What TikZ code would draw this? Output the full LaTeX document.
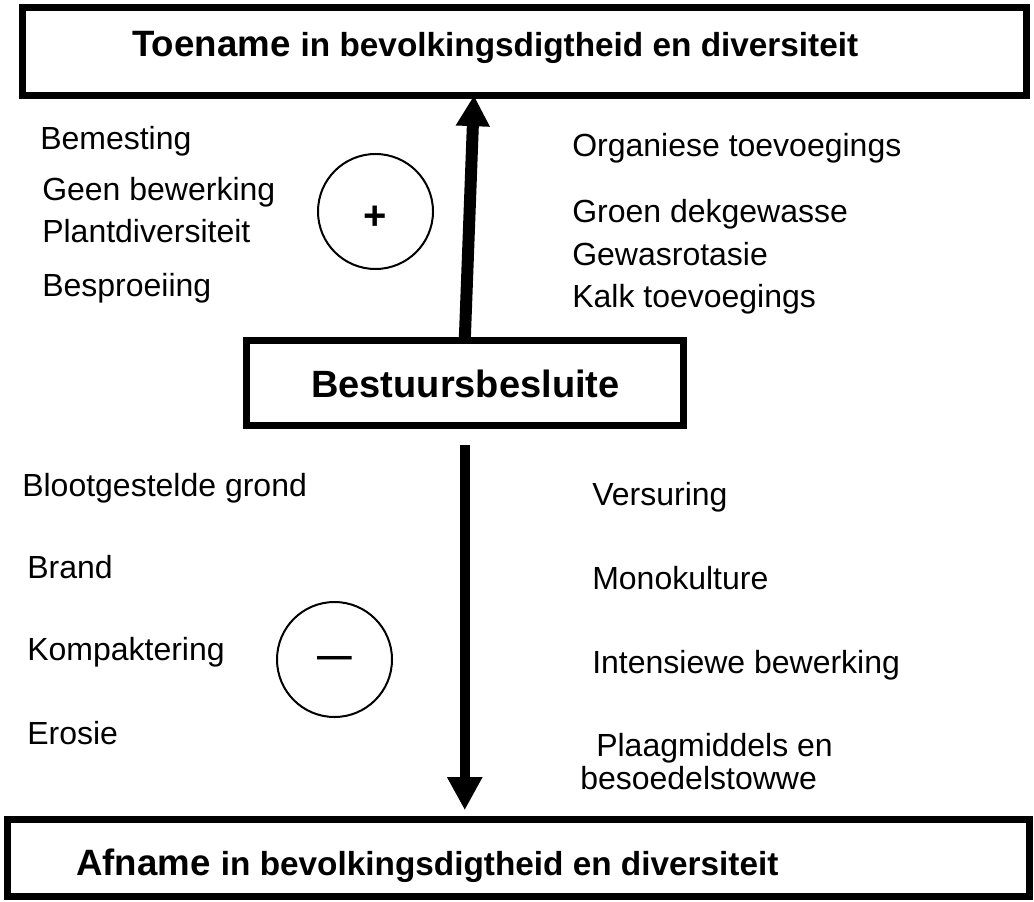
\documentclass[tikz,border=0pt]{standalone}
\usepackage{fontspec}
\setmainfont{Liberation Sans}
\usetikzlibrary{arrows.meta}
\begin{document}
\begin{tikzpicture}[x=0.75pt,y=-0.75pt,
  frame/.style={draw,rectangle,line width=5.25pt,inner sep=0pt,outer sep=0pt},
  lbl/.style={anchor=base west,inner sep=0pt,font=\fontsize{24}{28}\selectfont},
  bigttl/.style={anchor=base west,inner sep=0pt,font=\bfseries\fontsize{27.5}{30}\selectfont},
  sign/.style={draw,circle,line width=1.5pt,minimum size=86.25pt,inner sep=0pt},
  signtext/.style={inner sep=0pt,font=\bfseries\fontsize{#1}{#1}\selectfont},
  uparrow/.style={line width=9pt,-{Triangle[length=23pt,width=24pt]}},
  downarrow/.style={line width=7.5pt,-{Triangle[length=24.75pt,width=24.75pt]}}
]
\useasboundingbox (0,0) rectangle (1034,902);
\fill[white] (0,0) rectangle (1034,902);

% boxes
\node[frame,minimum width=753pt,minimum height=66pt] (top) at (524.5,51.5) {};
\node[frame,minimum width=766.5pt,minimum height=58.1pt] (bot) at (518.5,858.25) {};
\node[frame,minimum width=327.4pt,minimum height=63.4pt] (mid) at (464.75,382.75) {};

% titles
\node[bigttl] (toename) at (132,57) {Toename {\fontsize{25}{30}\selectfont in bevolkingsdigtheid en diversiteit}};
\node[bigttl] (afname) at (76,875) {Afname {\fontsize{25}{30}\selectfont in bevolkingsdigtheid en diversiteit}};
\node[anchor=base west,inner sep=0pt,font=\bfseries\fontsize{28.5}{32}\selectfont] (besluit) at (311,397) {Bestuursbesluite};

% arrows
\draw[uparrow] (mid.north) -- ([xshift=-37.9pt]top.south);
\draw[downarrow,shorten <=15pt,shorten >=7pt] (mid.south) -- (mid.south |- bot.north);

% circles
\node[sign] (plus) at (375.5,211.5) {};
\node[signtext=30] (plussign) at ([yshift=-4.5pt]plus.center) {+};
\node[sign] (minus) at (334.5,659.5) {};
\node[signtext=26] (minussign) at ([yshift=-2pt]minus.center) {—};

% upper left
\node[lbl] (l1) at (40,150) {Bemesting};
\node[lbl] (l2) at (42,201) {Geen bewerking};
\node[lbl] (l3) at (42,243) {Plantdiversiteit};
\node[lbl] (l4) at (42,296) {Besproeiing};
% upper right
\node[lbl] (r1) at (572,157) {Organiese toevoegings};
\node[lbl] (r2) at (572,223) {Groen dekgewasse};
\node[lbl] (r3) at (572,265) {Gewasrotasie};
\node[lbl] (r4) at (572,307) {Kalk toevoegings};
% lower left
\node[lbl] (b1) at (22,496) {Blootgestelde grond};
\node[lbl] (b2) at (27,578) {Brand};
\node[lbl] (b3) at (27,660) {Kompaktering};
\node[lbl] (b4) at (27,744) {Erosie};
% lower right
\node[lbl] (c1) at (592,505) {Versuring};
\node[lbl] (c2) at (592,589) {Monokulture};
\node[lbl] (c3) at (592,673) {Intensiewe bewerking};
\node[lbl] (c4) at (596,756) {Plaagmiddels en};
\node[lbl] (c5) at (580,789) {besoedelstowwe};
\end{tikzpicture}
\end{document}
